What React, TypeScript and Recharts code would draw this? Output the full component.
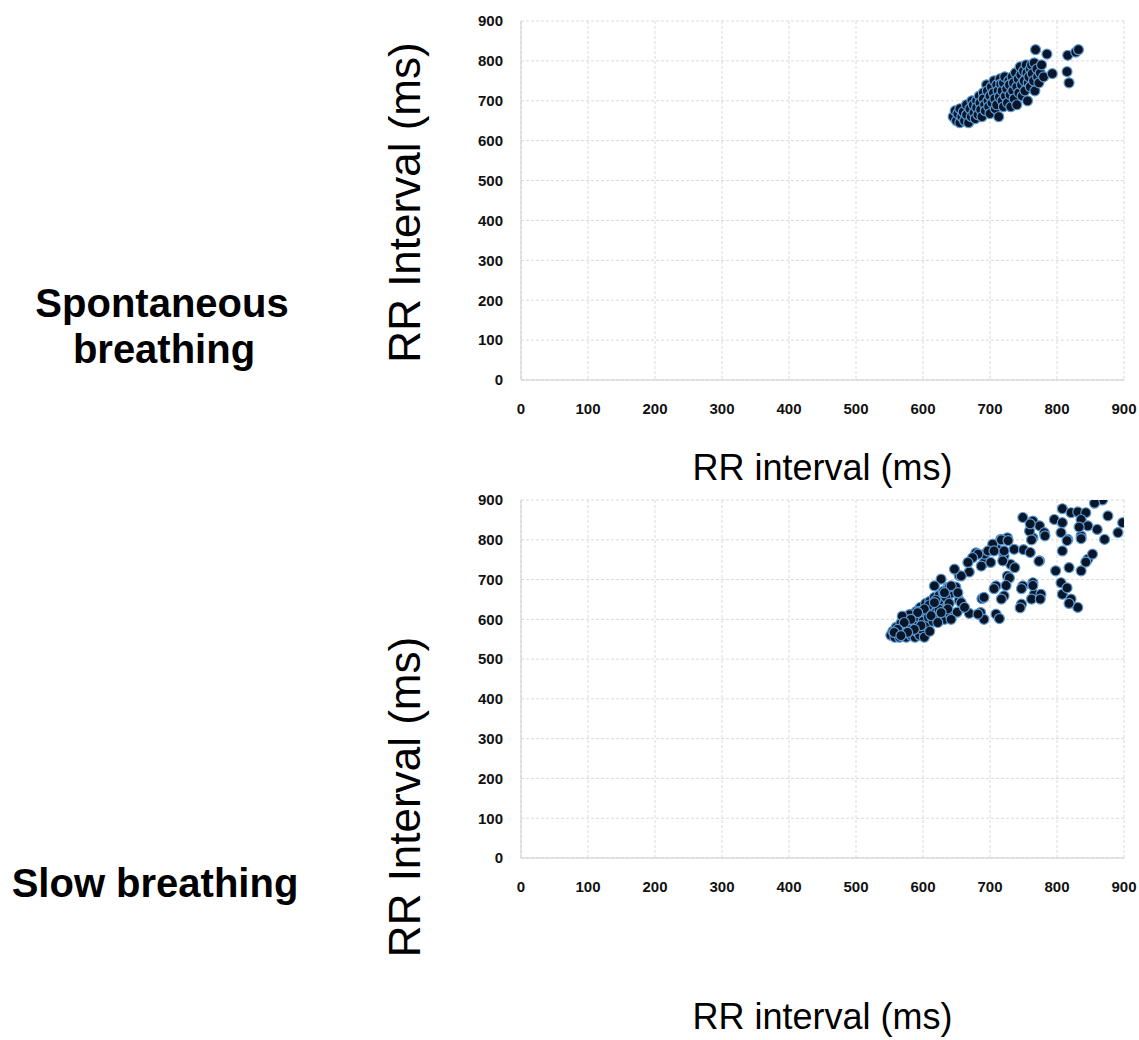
import React from 'react';
import { ScatterChart, Scatter, XAxis, YAxis, CartesianGrid } from 'recharts';

// Axis ticks (ms)
const axisTicks = [0, 100, 200, 300, 400, 500, 600, 700, 800, 900];

// Labels
const rowLabelTop = ['Spontaneous', 'breathing'];
const rowLabelBottom = 'Slow breathing';
const xTitle = 'RR interval (ms)';
const yTitle = 'RR Interval (ms)';

// Spontaneous breathing: [RR n, RR n+1] (ms)
const spontaneousPoints: number[][] = [
  [645, 660], [648, 675], [650, 650], [652, 668], [655, 645], [655, 680], [658, 660], [660, 672],
  [662, 650], [665, 690], [665, 665], [668, 645], [670, 680], [672, 660], [673, 700], [675, 690],
  [676, 670], [678, 655], [680, 700], [680, 683], [682, 665], [684, 712], [685, 695], [686, 678],
  [688, 660], [690, 720], [690, 705], [692, 690], [693, 675], [695, 740], [696, 725], [697, 700],
  [698, 685], [700, 668], [700, 712], [702, 735], [703, 695], [705, 720], [706, 750], [707, 705],
  [708, 680], [710, 740], [710, 690], [712, 725], [713, 660], [714, 710], [715, 755], [716, 742],
  [718, 700], [718, 725], [720, 685], [720, 745], [722, 760], [723, 712], [725, 730], [726, 695],
  [728, 750], [729, 740], [730, 715], [731, 685], [733, 760], [734, 725], [735, 745], [736, 705],
  [738, 770], [740, 735], [740, 690], [742, 755], [743, 720], [745, 785], [746, 765], [747, 740],
  [748, 712], [750, 775], [751, 750], [752, 725], [754, 790], [755, 770], [756, 700], [757, 745],
  [758, 760], [760, 780], [760, 735], [762, 790], [763, 768], [765, 750], [766, 795], [767, 725],
  [768, 828], [770, 780], [771, 760], [773, 745], [775, 770], [777, 790], [780, 760], [785, 817],
  [793, 768], [815, 773], [816, 814], [818, 745], [828, 822], [832, 828],
];

// Slow breathing: [RR n, RR n+1] (ms)
const slowPoints: number[][] = [
  [552, 560], [555, 570], [558, 555], [560, 580], [562, 565], [565, 555], [567, 590], [568, 572],
  [570, 560], [572, 585], [574, 598], [575, 555], [577, 570], [578, 605], [580, 590], [582, 560],
  [583, 578], [585, 612], [586, 595], [588, 555], [590, 570], [590, 620], [592, 585], [594, 605],
  [595, 560], [596, 630], [598, 575], [600, 615], [600, 595], [602, 555], [604, 640], [605, 585],
  [606, 625], [608, 605], [610, 570], [610, 645], [612, 632], [614, 615], [615, 595], [617, 655],
  [618, 640], [620, 620], [622, 600], [624, 660], [625, 635], [627, 615], [628, 648], [630, 670],
  [632, 600], [633, 628], [635, 655], [637, 680], [638, 640], [640, 612], [641, 665],
  [679, 767], [691, 742], [703, 774], [669, 719], [654, 710], [639, 681], [649, 681], [634, 656],
  [619, 648], [609, 636], [654, 648], [639, 640], [651, 618], [669, 615], [688, 652], [624, 625],
  [594, 620], [580, 612], [569, 608],
  [726, 805], [736, 776], [721, 759], [731, 738], [726, 709], [711, 776], [692, 764], [682, 764],
  [701, 743], [687, 734], [657, 709], [642, 684], [632, 667], [617, 642], [602, 626], [592, 617],
  [582, 600], [572, 592], [562, 575], [557, 567], [652, 667], [657, 642], [662, 630], [637, 626],
  [627, 617], [642, 600], [612, 609], [622, 592], [597, 584], [587, 575], [577, 567], [567, 559],
  [716, 801], [704, 789], [697, 772], [674, 755], [667, 743], [647, 726], [627, 701], [617, 684],
  [868, 900], [856, 892], [898, 843], [891, 818], [876, 860], [871, 801], [808, 878], [821, 868],
  [831, 870], [843, 868], [836, 851], [846, 835], [860, 826], [796, 851], [808, 843], [806, 818],
  [816, 801], [836, 810], [749, 856], [764, 847], [774, 835], [781, 818], [764, 805], [759, 822],
  [808, 772], [818, 730], [836, 722], [846, 751], [853, 764], [798, 722], [806, 692], [808, 663],
  [821, 651], [831, 630], [774, 747], [764, 692], [766, 663], [776, 663], [749, 684], [747, 638],
  [721, 659], [709, 684], [691, 655], [686, 617], [709, 613], [691, 600], [682, 613],
  [833, 832], [815, 798], [836, 803], [843, 744], [815, 679], [818, 640],
  [760, 840], [782, 810], [762, 800], [717, 800], [727, 798], [773, 746], [706, 772], [721, 772],
  [750, 775], [760, 768], [719, 747], [737, 730], [729, 704], [706, 677], [724, 685], [747, 677],
  [764, 685], [762, 651], [775, 651], [717, 651], [745, 629], [714, 602],
];

const toData = (pts: number[][]) => pts.map(([x, y]) => ({ x, y }));

const FONT = '"Liberation Sans", Arial, Helvetica, sans-serif';

const Dot = (props: any) => (
  <circle cx={props.cx} cy={props.cy} r={5} fill="#0a1628" stroke="#5b9bd5" strokeWidth={1.2} />
);

const tickStyle = { fontSize: 15, fontWeight: 700, fill: '#111', fontFamily: FONT };

function makeXLabel(offset: number) {
  return (props: any) => {
    const vb = props.viewBox || {};
    return (
      <text
        x={vb.x + vb.width / 2}
        y={vb.y + offset}
        textAnchor="middle"
        fontSize={36}
        fontFamily={FONT}
        fill="#000"
      >
        {xTitle}
      </text>
    );
  };
}

function makeYLabel(shiftY: number) {
  return (props: any) => {
    const vb = props.viewBox || {};
    const px = vb.x + vb.width - 101;
    const py = vb.y + vb.height / 2 + shiftY;
    return (
      <text
        x={px}
        y={py}
        transform={`rotate(-90 ${px} ${py})`}
        textAnchor="middle"
        fontSize={44}
        fontFamily={FONT}
        fill="#000"
      >
        {yTitle}
      </text>
    );
  };
}

function Panel({
  data,
  top,
  height,
  margin,
  xLabelOffset,
  yLabelShift,
}: {
  data: { x: number; y: number }[];
  top: number;
  height: number;
  margin: { top: number; right: number; bottom: number; left: number };
  xLabelOffset: number;
  yLabelShift: number;
}) {
  return (
    <div style={{ position: 'absolute', left: 330, top, width: 809, height }}>
      <ScatterChart width={809} height={height} margin={margin} style={{ overflow: 'visible' }}>
        <CartesianGrid stroke="#dadada" strokeDasharray="3 2" />
        <XAxis
          type="number"
          dataKey="x"
          domain={[0, 900]}
          ticks={axisTicks}
          interval={0}
          height={30}
          tickLine={false}
          tickSize={6}
          tickMargin={17}
          axisLine={{ stroke: '#cfcfcf' }}
          tick={tickStyle}
          allowDataOverflow
          label={makeXLabel(xLabelOffset)}
        />
        <YAxis
          type="number"
          dataKey="y"
          domain={[0, 900]}
          ticks={axisTicks}
          interval={0}
          width={81}
          tickLine={false}
          tickSize={6}
          tickMargin={12}
          axisLine={{ stroke: '#cfcfcf' }}
          tick={tickStyle}
          allowDataOverflow
          label={makeYLabel(yLabelShift)}
        />
        <Scatter data={data} shape={Dot} isAnimationActive={false} />
      </ScatterChart>
    </div>
  );
}

export default function App() {
  return (
    <div
      style={{
        position: 'absolute',
        left: 0,
        top: 0,
        width: 1139,
        height: 1040,
        background: '#fff',
        overflow: 'hidden',
      }}
    >
      <svg
        width={330}
        height={1040}
        style={{ position: 'absolute', left: 0, top: 0 }}
      >
        <text x={162} y={317} textAnchor="middle" fontSize={40} fontWeight={700} fontFamily={FONT} fill="#000">
          {rowLabelTop[0]}
        </text>
        <text x={164} y={363} textAnchor="middle" fontSize={40} fontWeight={700} fontFamily={FONT} fill="#000">
          {rowLabelTop[1]}
        </text>
        <text x={155} y={897} textAnchor="middle" fontSize={40} fontWeight={700} fontFamily={FONT} fill="#000">
          {rowLabelBottom}
        </text>
      </svg>
      <Panel
        data={toData(spontaneousPoints)}
        top={0}
        height={490}
        margin={{ top: 21, right: 15, bottom: 80, left: 110 }}
        xLabelOffset={100}
        yLabelShift={2}
      />
      <Panel
        data={toData(slowPoints)}
        top={490}
        height={550}
        margin={{ top: 10, right: 15, bottom: 152, left: 110 }}
        xLabelOffset={171}
        yLabelShift={118}
      />
    </div>
  );
}
